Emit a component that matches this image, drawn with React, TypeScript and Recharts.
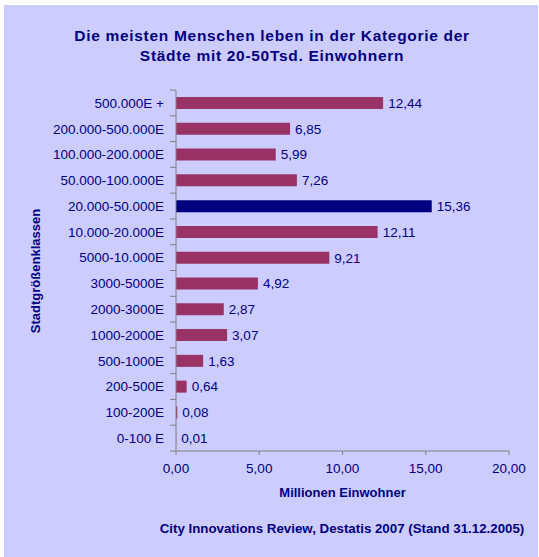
import { Bar, BarChart, Cell, LabelList, XAxis, YAxis } from "recharts";

const categories = [
  "500.000E +",
  "200.000-500.000E",
  "100.000-200.000E",
  "50.000-100.000E",
  "20.000-50.000E",
  "10.000-20.000E",
  "5000-10.000E",
  "3000-5000E",
  "2000-3000E",
  "1000-2000E",
  "500-1000E",
  "200-500E",
  "100-200E",
  "0-100 E",
];
const millions = [12.44, 6.85, 5.99, 7.26, 15.36, 12.11, 9.21, 4.92, 2.87, 3.07, 1.63, 0.64, 0.08, 0.01];
const highlighted = "20.000-50.000E";
const xTicks = [0, 5, 10, 15, 20];

const titleLines = ["Die meisten Menschen leben in der Kategorie der", "Städte mit 20-50Tsd. Einwohnern"];
const yTitle = "Stadtgrößenklassen";
const xTitle = "Millionen Einwohner";
const source = "City Innovations Review, Destatis 2007 (Stand 31.12.2005)";

const rows = categories.map((name, i) => ({ name, value: millions[i] }));

const W = 534;
const H = 552;
const margin = { top: 85, right: 29, bottom: 76, left: 0 };
const band = (H - margin.top - margin.bottom - 30) / categories.length;

const navy = "#000080";
const font = "Arial, 'Liberation Sans', sans-serif";
const de = (v: unknown) => Number(v).toFixed(2).replace(".", ",");

function CategoryTick(props: any) {
  const { x, y, payload, index } = props;
  const last = index === categories.length - 1;
  return (
    <g>
      <line x1={x + 6} x2={x + 12} y1={y - band / 2} y2={y - band / 2} stroke="#808080" />
      {last && <line x1={x + 6} x2={x + 12} y1={y + band / 2} y2={y + band / 2} stroke="#808080" />}
      <text x={x} y={y} dy="0.36em" textAnchor="end" fill={navy} fontSize={13.5} fontFamily={font}>
        {payload.value}
      </text>
    </g>
  );
}

export default function App() {
  return (
    <div
      style={{
        position: "absolute",
        left: 4,
        top: 5,
        width: W,
        height: H,
        background: "#ccccff",
        fontFamily: font,
        color: navy,
      }}
    >
      <div
        style={{
          position: "absolute",
          left: 0,
          width: 536,
          top: 21,
          textAlign: "center",
          fontWeight: "bold",
          fontSize: 15.5,
          letterSpacing: 0.7,
          lineHeight: "20px",
        }}
      >
        {titleLines.map((t) => (
          <div key={t}>{t}</div>
        ))}
      </div>
      <BarChart width={W} height={H} data={rows} layout="vertical" margin={margin} barSize={12}>
        <XAxis
          type="number"
          domain={[0, 20]}
          ticks={xTicks}
          tickFormatter={de}
          height={30}
          stroke="#808080"
          tickSize={4}
          tickMargin={8}
          tick={{ fill: navy, fontSize: 13.5, fontFamily: font }}
        />
        <YAxis
          type="category"
          dataKey="name"
          width={172}
          stroke="#808080"
          tickLine={false}
          tickSize={6}
          tickMargin={6}
          interval={0}
          tick={<CategoryTick />}
        />
        <Bar dataKey="value" isAnimationActive={false}>
          {rows.map((r) => (
            <Cell key={r.name} fill={r.name === highlighted ? navy : "#993366"} />
          ))}
          <LabelList dataKey="value" position="right" offset={5} formatter={de} fill={navy} fontSize={13.5} fontFamily={font} />
        </Bar>
      </BarChart>
      <div style={{ position: "absolute", left: 172, width: 333, top: 480, textAlign: "center", fontWeight: "bold", fontSize: 13 }}>
        {xTitle}
      </div>
      <div
        style={{
          position: "absolute",
          left: 31,
          top: 266,
          transform: "translate(-50%, -50%) rotate(-90deg)",
          whiteSpace: "nowrap",
          fontWeight: "bold",
          fontSize: 13,
        }}
      >
        {yTitle}
      </div>
      <div
        style={{
          position: "absolute",
          left: 150,
          width: 376,
          top: 516,
          textAlign: "center",
          fontWeight: "bold",
          fontSize: 13.3,
          whiteSpace: "nowrap",
        }}
      >
        {source}
      </div>
    </div>
  );
}
